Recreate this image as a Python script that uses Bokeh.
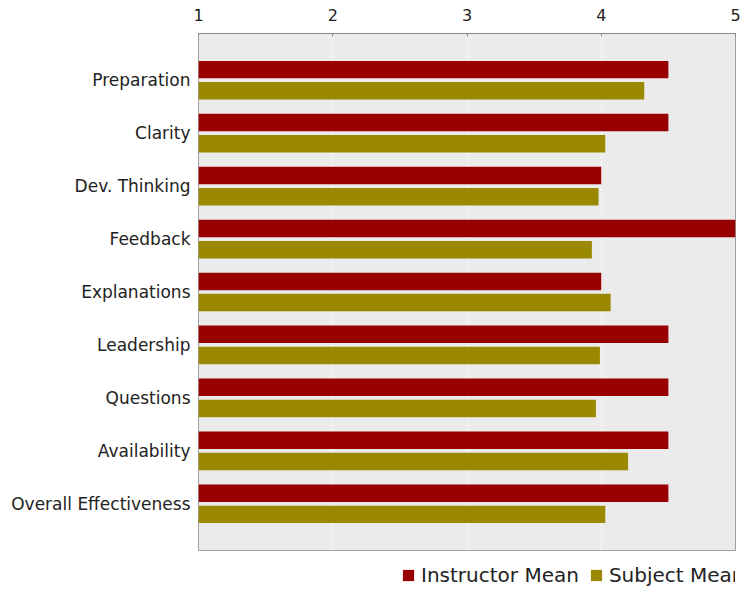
from bokeh.plotting import figure
from bokeh.layouts import column
from bokeh.models import (FactorRange, Range1d, FixedTicker, Legend, LegendItem,
                          ColumnDataSource)
from bokeh.transform import dodge
from bokeh.embed import file_html
from bokeh.resources import INLINE

categories = ["Preparation", "Clarity", "Dev. Thinking", "Feedback", "Explanations",
              "Leadership", "Questions", "Availability", "Overall Effectiveness"]
instructor_mean = [4.5, 4.5, 4.0, 5.0, 4.0, 4.5, 4.5, 4.5, 4.5]
subject_mean = [4.32, 4.03, 3.98, 3.93, 4.07, 3.99, 3.96, 4.2, 4.03]
x_ticks = [1, 2, 3, 4, 5]
series_names = ["Instructor Mean", "Subject Mean"]
colors = ["#990000", "#998800"]

src = ColumnDataSource(dict(cat=categories, inst=instructor_mean, subj=subject_mean,
                            base=[1] * len(categories)))

y_range = FactorRange(factors=categories[::-1], range_padding=0.085,
                      range_padding_units="percent")
x_range = Range1d(1, 5)

p = figure(width=744, height=552, output_backend="svg", toolbar_location=None,
           y_range=y_range, x_range=x_range, x_axis_location="above",
           min_border_left=198, min_border_right=9, min_border_top=33,
           min_border_bottom=2)

r1 = p.hbar(y=dodge("cat", 0.2, range=y_range), left="base", right="inst",
            height=0.33, color=colors[0], line_color=None, source=src)
r2 = p.hbar(y=dodge("cat", -0.2, range=y_range), left="base", right="subj",
            height=0.33, color=colors[1], line_color=None, source=src)

p.background_fill_color = "#ebebeb"
p.border_fill_color = "white"
p.outline_line_color = "#a0a0a0"

p.xaxis.ticker = FixedTicker(ticks=x_ticks)
p.xaxis.axis_line_color = "#888888"
p.xaxis.major_tick_line_color = "#888888"
p.xaxis.major_tick_in = 3
p.xaxis.major_tick_out = 0
p.xaxis.minor_tick_line_color = None
p.xaxis.major_label_standoff = 13
p.xaxis.major_label_text_font = "DejaVu Sans"
p.xaxis.major_label_text_font_size = "16px"
p.xaxis.major_label_text_color = "#222222"

p.yaxis.axis_line_color = None
p.yaxis.major_tick_line_color = None
p.yaxis.minor_tick_line_color = None
p.yaxis.major_label_standoff = 2
p.yaxis.major_label_text_font = "DejaVu Sans"
p.yaxis.major_label_text_font_size = "17px"
p.yaxis.major_label_text_color = "#222222"

p.ygrid.grid_line_color = None
p.xgrid.grid_line_color = "#ffffff"
p.xgrid.grid_line_dash = "2 2"

# legend strip below the chart
p2 = figure(width=744, height=36, output_backend="svg", toolbar_location=None,
            y_range=y_range, x_range=x_range,
            x_axis_location=None, y_axis_location=None,
            min_border=0, min_border_left=0, min_border_right=0,
            min_border_top=0, min_border_bottom=0)
p2.outline_line_color = None
p2.background_fill_color = "white"
p2.border_fill_color = "white"
p2.grid.visible = False

l1 = p2.hbar(y=dodge("cat", 0.2, range=y_range), left="base", right="inst",
             height=0.33, color=colors[0], line_color=None, source=src, visible=False)
l2 = p2.hbar(y=dodge("cat", -0.2, range=y_range), left="base", right="subj",
             height=0.33, color=colors[1], line_color=None, source=src, visible=False)

legend = Legend(items=[LegendItem(label=series_names[0], renderers=[l1]),
                       LegendItem(label=series_names[1], renderers=[l2])],
                orientation="horizontal", location=(203, 1),
                label_text_font="DejaVu Sans", label_text_font_size="20px",
                label_text_color="#222222",
                glyph_width=14, glyph_height=14, label_standoff=6, spacing=10,
                padding=0, margin=0, border_line_color=None,
                background_fill_alpha=0)
p2.add_layout(legend, "center")

layout = column(p, p2, spacing=0)

open("out.html", "w").write(file_html(layout, INLINE))
